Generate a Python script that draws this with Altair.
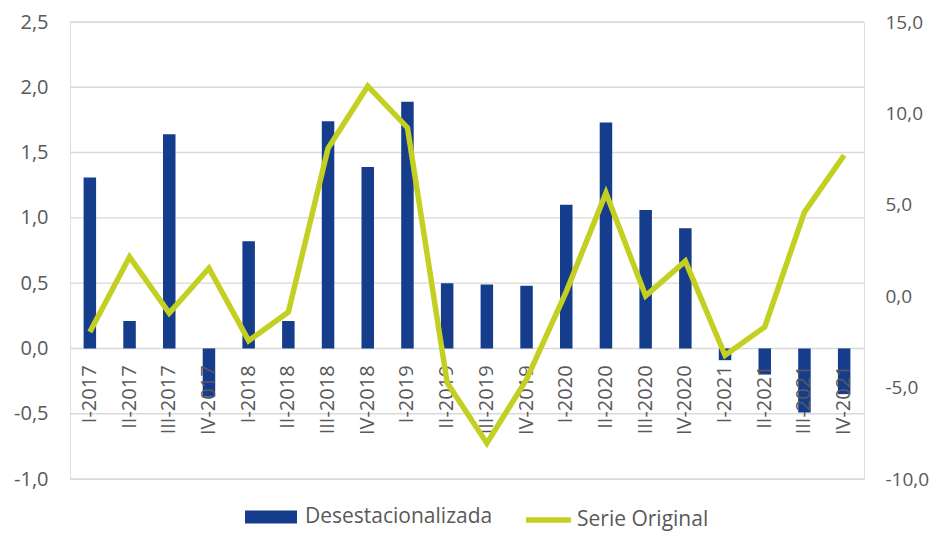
import altair as alt
import pandas as pd

quarters = ["I-2017", "II-2017", "III-2017", "IV-2017",
            "I-2018", "II-2018", "III-2018", "IV-2018",
            "I-2019", "II-2019", "III-2019", "IV-2019",
            "I-2020", "II-2020", "III-2020", "IV-2020",
            "I-2021", "II-2021", "III-2021", "IV-2021"]
desestacionalizada = [1.31, 0.21, 1.64, -0.37, 0.82, 0.21, 1.74, 1.39, 1.89, 0.50,
                      0.49, 0.48, 1.10, 1.73, 1.06, 0.92, -0.09, -0.20, -0.49, -0.35]
serie_original = [-1.96, 2.15, -0.92, 1.53, -2.43, -0.87, 8.09, 11.49, 9.22, -4.74,
                  -8.04, -4.55, 0.25, 5.64, 0.02, 1.92, -3.23, -1.68, 4.60, 7.71]
left_ticks = [-1.0, -0.5, 0.0, 0.5, 1.0, 1.5, 2.0, 2.5]
right_ticks = [-10, -5, 0, 5, 10, 15]

df = pd.DataFrame({"q": quarters, "d": desestacionalizada, "o": serie_original})
grid_df = pd.DataFrame({"v": left_ticks})

BLUE = "#153D8B"
GREEN = "#C3D022"
TXT = "#595959"
FONT = "Open Sans"
lab = "replace(replace(format(datum.value, '.1f'), '.', ','), '\u2212', '-')"

xsc = alt.Scale(domain=quarters, paddingInner=0, paddingOuter=0)
ysc_left = alt.Scale(domain=[-1.0, 2.5], nice=False, zero=False)

base = alt.Chart(df)

grid = alt.Chart(grid_df).mark_rule(color="#D9D9D9", strokeWidth=1.4).encode(
    y=alt.Y("v:Q", scale=ysc_left, title=None,
            axis=alt.Axis(values=left_ticks, labelExpr=lab, grid=False, domain=False,
                          ticks=False, labelPadding=22, labelFontSize=20,
                          labelFont=FONT, labelColor=TXT)),
)

bars = base.mark_bar(size=12.5, color=BLUE).transform_calculate(
    serie="'Desestacionalizada'"
).encode(
    x=alt.X("q:N", scale=xsc, sort=quarters, axis=None),
    y=alt.Y("d:Q", scale=ysc_left, title=None, axis=None),
    color=alt.Color("serie:N",
                    scale=alt.Scale(domain=["Desestacionalizada"], range=[BLUE]),
                    legend=alt.Legend(title=None, orient="none", legendX=175, legendY=469,
                                      symbolType="M-1,-0.25H1V0.25H-1Z", symbolSize=2704,
                                      symbolStrokeWidth=0, labelOffset=8, padding=0,
                                      labelLimit=400,
                                      labelFontSize=21, labelFont=FONT, labelColor=TXT)),
)

labels = base.mark_text(angle=270, align="right", baseline="middle", dx=-17,
                        fontSize=20, font=FONT, color=TXT).encode(
    x=alt.X("q:N", scale=xsc, sort=quarters, axis=None),
    y=alt.Y(datum=0, scale=ysc_left, axis=None),
    text="q:N",
)

line = base.mark_line(strokeWidth=5.5).transform_calculate(
    serie2="'Serie Original'"
).encode(
    x=alt.X("q:N", scale=xsc, sort=quarters, axis=None),
    y=alt.Y("o:Q", scale=alt.Scale(domain=[-10, 15], nice=False, zero=False), title=None,
            axis=alt.Axis(orient="right", values=right_ticks, labelExpr=lab, grid=False,
                          domain=False, ticks=False, labelPadding=21, labelFontSize=19,
                          labelFont=FONT, labelColor=TXT)),
    stroke=alt.Stroke("serie2:N",
                      scale=alt.Scale(domain=["Serie Original"], range=[GREEN]),
                      legend=alt.Legend(title=None, orient="none", legendX=453, legendY=472.5,
                                        symbolType="stroke", symbolSize=2025,
                                        symbolStrokeWidth=5.5, labelOffset=3, padding=0,
                                        labelLimit=400,
                                        labelFontSize=21, labelFont=FONT, labelColor=TXT)),
)

chart = alt.layer(grid, bars, labels, line).resolve_scale(
    y="independent", color="independent", stroke="independent"
).properties(
    width=794, height=457,
    autosize=alt.AutoSizeParams(type="none"),
    padding={"left": 62, "top": 14, "right": 65, "bottom": 53},
).configure_view(
    stroke="transparent", strokeWidth=0
).configure_axis(
    domain=False, ticks=False, grid=False
).configure(background="white")

chart.save("out.html", embed_options={"renderer": "svg", "actions": False})
